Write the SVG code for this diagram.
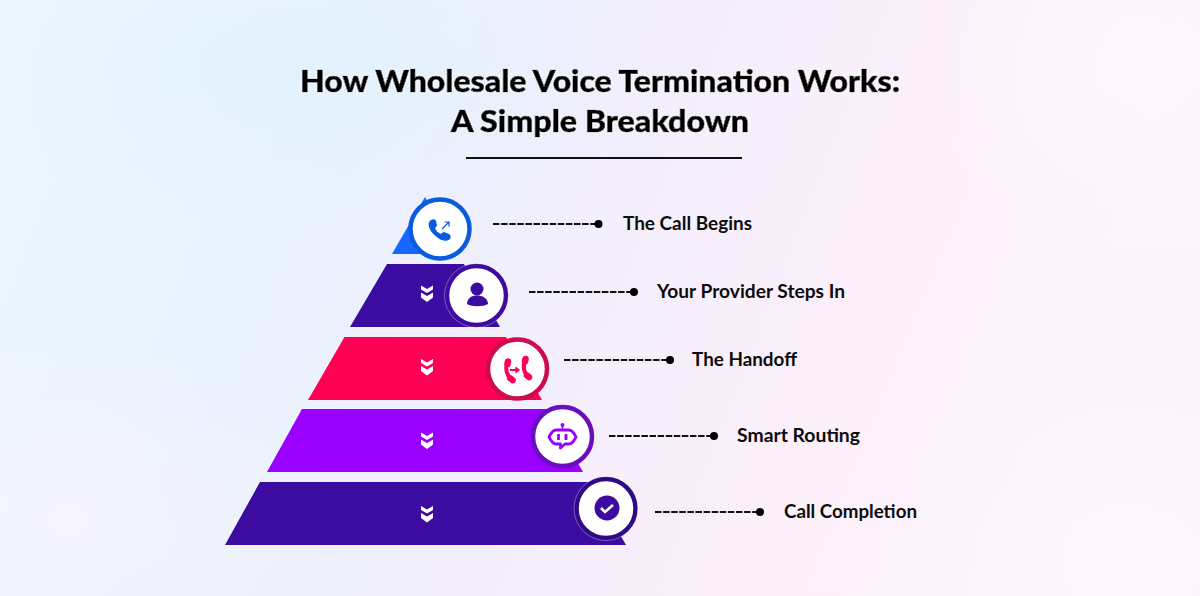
<svg xmlns="http://www.w3.org/2000/svg" width="1200" height="596" viewBox="0 0 1200 596">
<style>
.t{font-family:"Lato","Open Sans",sans-serif;font-weight:900;fill:#000;font-size:31px;stroke:#000;stroke-width:.7px;filter:url(#glow)}
.l{font-family:"Lato","Open Sans",sans-serif;font-weight:700;fill:#0c0c0c;font-size:19px}
.c{fill:none;stroke:#111;stroke-width:2;stroke-dasharray:6.500 1.600}
.d{fill:#000}
.r{fill:#fff;stroke-width:4.500}
.o{fill:none;stroke:#fff;stroke-opacity:.4;stroke-width:.8}
.ch{fill:#fff}
.h{fill:none;stroke:#ff0055;stroke-width:4;stroke-linecap:round}
.e{fill:none;stroke:#ff0055;stroke-width:6.500;stroke-linecap:round}
</style>
<defs>
<linearGradient id="bg" x1="0" y1="0" x2="1" y2="0.2">
<stop offset="0" stop-color="#eef7ff"/><stop offset="0.3" stop-color="#e9f2fd"/><stop offset="0.55" stop-color="#f3eefc"/><stop offset="0.8" stop-color="#fcf0fa"/><stop offset="1" stop-color="#fdf4fa"/>
</linearGradient>
<radialGradient id="b1"><stop offset="0" stop-color="#e3f1fe"/><stop offset="1" stop-color="#e3f1fe" stop-opacity="0"/></radialGradient>
<radialGradient id="b2"><stop offset="0" stop-color="#f5f4ff"/><stop offset="1" stop-color="#f5f4ff" stop-opacity="0"/></radialGradient>
<radialGradient id="b3"><stop offset="0" stop-color="#fef7fb"/><stop offset="1" stop-color="#fef7fb" stop-opacity="0"/></radialGradient>
<filter id="glow" x="-5%" y="-30%" width="110%" height="160%"><feDropShadow dx="0" dy="0" stdDeviation="1.200" flood-color="#fff"/></filter>
<path id="chev" class="ch" d="M-6-8.500 0-5 6-8.500V-4.500L0-1-6-4.500ZM-6-1.500 0 2 6-1.500V3.500L0 8-6 3.500Z"/>
</defs>
<rect width="1200" height="596" fill="url(#bg)"/>
<ellipse cx="300" cy="70" rx="320" ry="170" fill="url(#b1)"/>
<ellipse cx="70" cy="520" rx="260" ry="180" fill="url(#b2)"/>
<ellipse cx="1140" cy="60" rx="220" ry="200" fill="url(#b3)"/>
<ellipse cx="1130" cy="560" rx="200" ry="160" fill="url(#b3)"/>
<g id="title">
<text class="t" x="300" y="91.500" textLength="600" lengthAdjust="spacingAndGlyphs">How Wholesale Voice Termination Works:</text>
<text class="t" x="451" y="132" textLength="298" lengthAdjust="spacingAndGlyphs">A Simple Breakdown</text>
<path d="M466 158H742" stroke="#111" stroke-width="2"/>
</g>
<g id="connectors">
<path class="c" d="M493 224H598"/><circle class="d" cx="598.500" cy="224" r="4"/>
<path class="c" d="M529 292H634"/><circle class="d" cx="634" cy="292" r="4"/>
<path class="c" d="M564 360H670"/><circle class="d" cx="670" cy="360" r="4"/>
<path class="c" d="M609 436H714"/><circle class="d" cx="714" cy="436" r="4"/>
<path class="c" d="M655 512H760"/><circle class="d" cx="760" cy="512" r="4"/>
</g>
<g id="node1">
<path d="M392 254 425 197 458 254Z" fill="#1668ff"/>
<circle class="r" cx="440" cy="229" r="29.500" stroke="#0a5bdf"/>
<path d="M431 220c2-1 4-1 5 1l1 4c0 1-1 2-2 3 1 3 3 5 6 6 1-1 2-2 3-2l5 2c2 1 2 3 1 5-3 3-8 2-12-1-4-3-8-7-9-11-1-3 0-6 2-7z" fill="#0a5bdf"/>
<path d="M442 229 449 222M444.500 222H449V226.500" fill="none" stroke="#0a5bdf" stroke-width="1.200"/>
<text class="l" x="623" y="230" textLength="129" lengthAdjust="spacingAndGlyphs">The Call Begins</text>
</g>
<g id="node2">
<path d="M387 264H464L500 327H350Z" fill="#3c0ca0"/>
<use href="#chev" x="427" y="294"/>
<circle class="r" cx="476.500" cy="295.500" r="29.500" stroke="#3c0ca0"/>
<circle class="o" cx="476.500" cy="295.500" r="32"/>
<circle cx="477" cy="289" r="6.500" fill="#3c0ca0"/>
<path d="M467 304c0-6 5-8.500 10-8.500s11 2.500 11 8.500c-5 3-16 3-21 0z" fill="#3c0ca0"/>
<text class="l" x="657" y="298" textLength="188" lengthAdjust="spacingAndGlyphs">Your Provider Steps In</text>
</g>
<g id="node3">
<path d="M344.500 337H506L542 400H308Z" fill="#ff0055"/>
<use href="#chev" x="427" y="367.500"/>
<circle class="r" cx="517.500" cy="369" r="29.500" stroke="#cb0d4f"/>
<path class="h" d="M507.500 361.500C504.500 369 507 377 513.500 381"/>
<path class="e" d="M508 361.500 507.500 364M512.500 380 510.500 378.500"/>
<path class="h" d="M525.500 358.500C522 366 524 374 529.500 378"/>
<path class="e" d="M525.500 359 525 361.500M529 377 527 375.500"/>
<path d="M510 370H518M515.500 367.500 518.500 370 515.500 372.500" fill="none" stroke="#ff0055" stroke-width="2"/>
<text class="l" x="692" y="366" textLength="105" lengthAdjust="spacingAndGlyphs">The Handoff</text>
</g>
<g id="node4">
<path d="M302 409H547L583 472H267Z" fill="#9900ff"/>
<use href="#chev" x="427" y="441"/>
<circle class="r" cx="562.500" cy="436.500" r="29.500" stroke="#6a0fbd"/>
<path d="M556 430H569C572 430 574 433 576 437 574 441 572 444 569 444H565L560.500 448V444H556C553 444 551 441 549 437 551 433 553 430 556 430Z" fill="#fff" stroke="#9900ff" stroke-width="2.800" stroke-linejoin="round"/>
<path d="M558.500 434v6M566 434v6" stroke="#9900ff" stroke-width="2.800"/>
<path d="M562.500 425v5" stroke="#9900ff" stroke-width="1.500"/><circle cx="562.500" cy="425" r="2" fill="#9900ff"/>
<text class="l" x="737" y="442" textLength="123" lengthAdjust="spacingAndGlyphs">Smart Routing</text>
</g>
<g id="node5">
<path d="M260 482H590L626 545H225Z" fill="#3c0ca0"/>
<use href="#chev" x="427" y="514.500"/>
<circle class="r" cx="606" cy="508.500" r="29.500" stroke="#2f0a87"/>
<circle class="o" cx="606" cy="508.500" r="32"/>
<circle cx="607" cy="508" r="12.500" fill="#3c0ca0"/>
<path d="M601 508 605 512 613 505" fill="none" stroke="#fff" stroke-width="2.600"/>
<text class="l" x="784" y="518" textLength="133" lengthAdjust="spacingAndGlyphs">Call Completion</text>
</g>
</svg>
